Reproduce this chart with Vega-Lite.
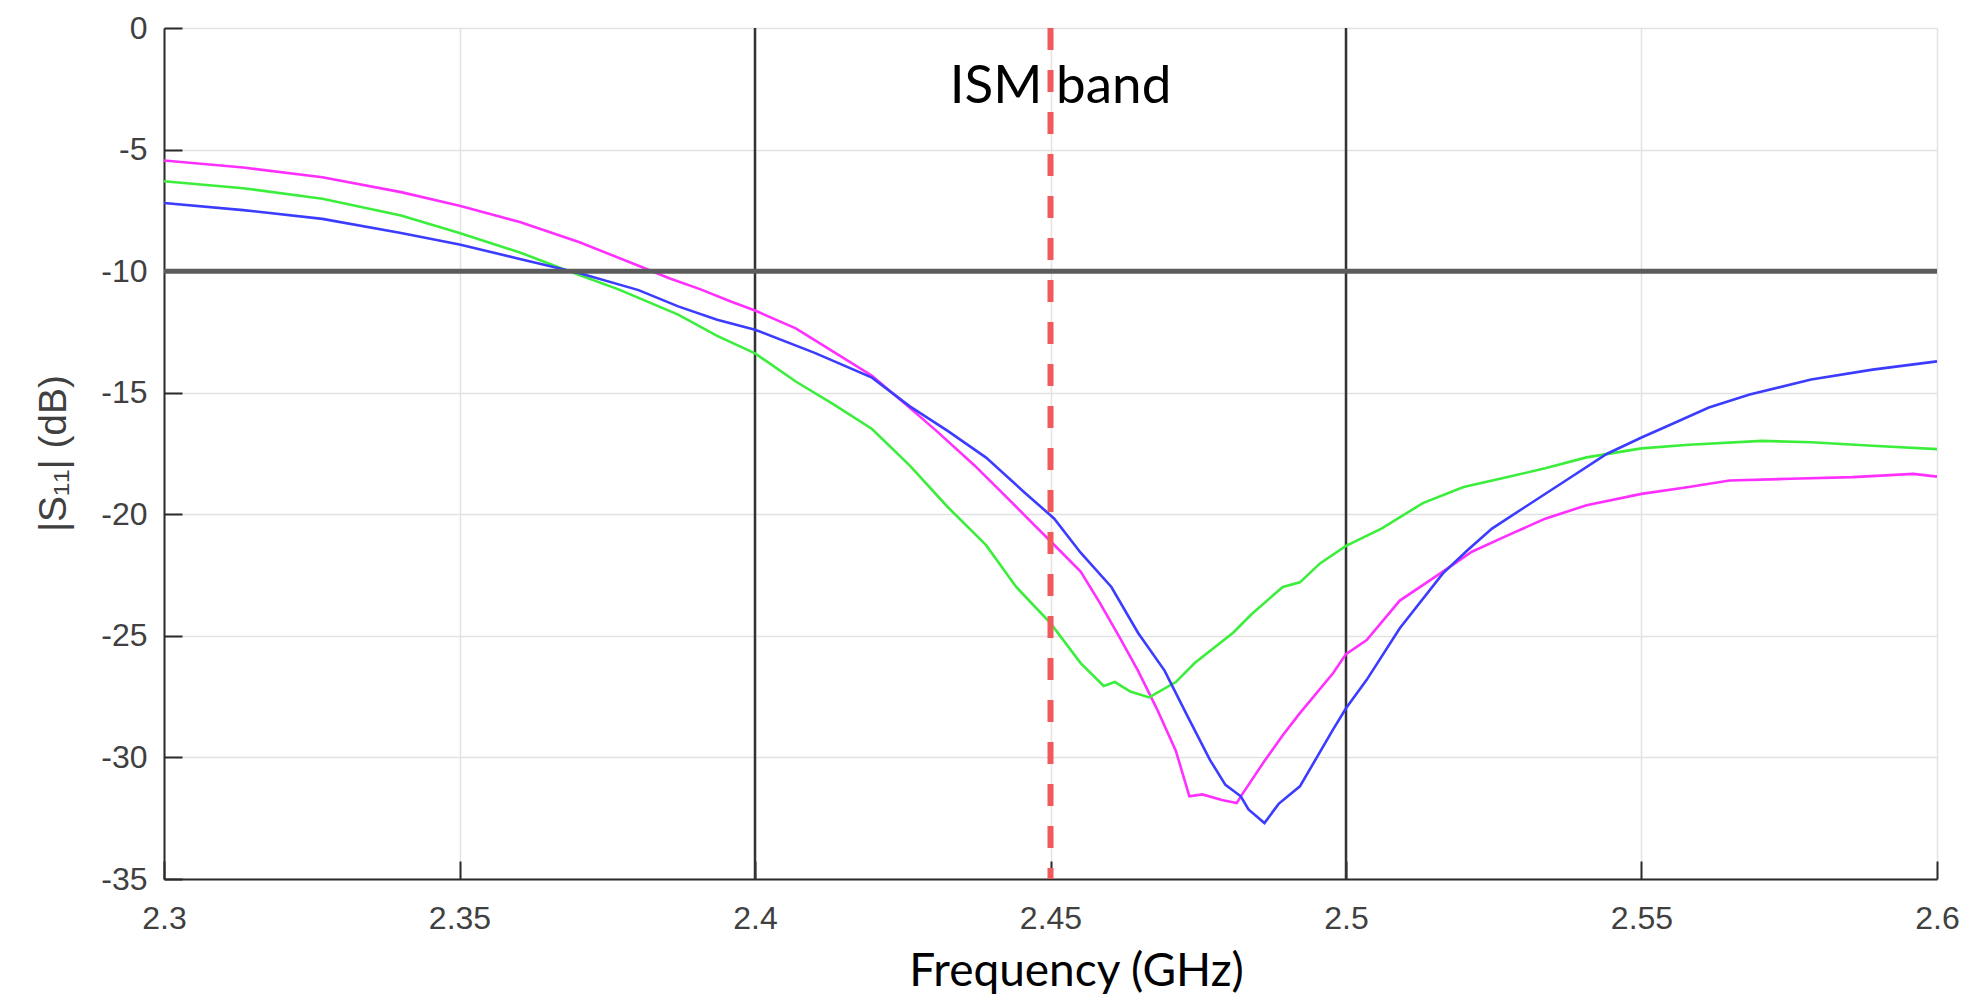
{
  "$schema": "https://vega.github.io/schema/vega-lite/v6.json",
  "autosize": {"type": "none"},
  "width": 1773,
  "height": 851,
  "padding": {"left": 164, "top": 28, "right": 38, "bottom": 122},
  "background": "white",
  "config": {
    "view": {"stroke": null},
    "axis": {
      "grid": true,
      "gridColor": "#e2e2e2",
      "gridWidth": 1.5,
      "domainColor": "#2b2b2b",
      "domainWidth": 2,
      "tickColor": "#2b2b2b",
      "tickWidth": 2,
      "tickSize": -18,
      "labelFont": "Liberation Sans",
      "labelFontSize": 32,
      "labelColor": "#404040",
      "labelOverlap": false,
      "labelFlush": false,
      "labelBound": false
    }
  },
  "datasets": {
    "curves": [
      {"f": 2.3, "db": -5.45, "s": "m"},
      {"f": 2.3134, "db": -5.74, "s": "m"},
      {"f": 2.3268, "db": -6.14, "s": "m"},
      {"f": 2.3401, "db": -6.75, "s": "m"},
      {"f": 2.35, "db": -7.31, "s": "m"},
      {"f": 2.3602, "db": -7.98, "s": "m"},
      {"f": 2.3702, "db": -8.8, "s": "m"},
      {"f": 2.3803, "db": -9.78, "s": "m"},
      {"f": 2.3856, "db": -10.3, "s": "m"},
      {"f": 2.3908, "db": -10.75, "s": "m"},
      {"f": 2.3959, "db": -11.25, "s": "m"},
      {"f": 2.4, "db": -11.62, "s": "m"},
      {"f": 2.4069, "db": -12.35, "s": "m"},
      {"f": 2.4133, "db": -13.32, "s": "m"},
      {"f": 2.4198, "db": -14.3, "s": "m"},
      {"f": 2.4255, "db": -15.48, "s": "m"},
      {"f": 2.4307, "db": -16.57, "s": "m"},
      {"f": 2.4371, "db": -17.98, "s": "m"},
      {"f": 2.4423, "db": -19.23, "s": "m"},
      {"f": 2.4468, "db": -20.33, "s": "m"},
      {"f": 2.45, "db": -21.11, "s": "m"},
      {"f": 2.4551, "db": -22.36, "s": "m"},
      {"f": 2.4583, "db": -23.62, "s": "m"},
      {"f": 2.4616, "db": -25.02, "s": "m"},
      {"f": 2.4648, "db": -26.43, "s": "m"},
      {"f": 2.468, "db": -28.0, "s": "m"},
      {"f": 2.4712, "db": -29.72, "s": "m"},
      {"f": 2.4735, "db": -31.6, "s": "m"},
      {"f": 2.4757, "db": -31.52, "s": "m"},
      {"f": 2.479, "db": -31.75, "s": "m"},
      {"f": 2.4815, "db": -31.88, "s": "m"},
      {"f": 2.4822, "db": -31.6, "s": "m"},
      {"f": 2.4862, "db": -30.15, "s": "m"},
      {"f": 2.4893, "db": -29.09, "s": "m"},
      {"f": 2.4922, "db": -28.18, "s": "m"},
      {"f": 2.4978, "db": -26.54, "s": "m"},
      {"f": 2.5, "db": -25.75, "s": "m"},
      {"f": 2.5035, "db": -25.17, "s": "m"},
      {"f": 2.5091, "db": -23.55, "s": "m"},
      {"f": 2.5164, "db": -22.36, "s": "m"},
      {"f": 2.5213, "db": -21.54, "s": "m"},
      {"f": 2.5268, "db": -20.93, "s": "m"},
      {"f": 2.5337, "db": -20.18, "s": "m"},
      {"f": 2.5407, "db": -19.63, "s": "m"},
      {"f": 2.55, "db": -19.16, "s": "m"},
      {"f": 2.558, "db": -18.88, "s": "m"},
      {"f": 2.5649, "db": -18.61, "s": "m"},
      {"f": 2.5753, "db": -18.54, "s": "m"},
      {"f": 2.5857, "db": -18.47, "s": "m"},
      {"f": 2.596, "db": -18.34, "s": "m"},
      {"f": 2.6, "db": -18.45, "s": "m"},

      {"f": 2.3, "db": -6.3, "s": "g"},
      {"f": 2.3134, "db": -6.59, "s": "g"},
      {"f": 2.3268, "db": -7.02, "s": "g"},
      {"f": 2.3401, "db": -7.71, "s": "g"},
      {"f": 2.35, "db": -8.43, "s": "g"},
      {"f": 2.3602, "db": -9.23, "s": "g"},
      {"f": 2.3682, "db": -9.97, "s": "g"},
      {"f": 2.3769, "db": -10.75, "s": "g"},
      {"f": 2.387, "db": -11.79, "s": "g"},
      {"f": 2.3936, "db": -12.66, "s": "g"},
      {"f": 2.4, "db": -13.38, "s": "g"},
      {"f": 2.4069, "db": -14.54, "s": "g"},
      {"f": 2.4133, "db": -15.48, "s": "g"},
      {"f": 2.4198, "db": -16.49, "s": "g"},
      {"f": 2.4262, "db": -18.0, "s": "g"},
      {"f": 2.4326, "db": -19.7, "s": "g"},
      {"f": 2.4391, "db": -21.27, "s": "g"},
      {"f": 2.4442, "db": -22.99, "s": "g"},
      {"f": 2.45, "db": -24.48, "s": "g"},
      {"f": 2.4551, "db": -26.12, "s": "g"},
      {"f": 2.459, "db": -27.06, "s": "g"},
      {"f": 2.4609, "db": -26.9, "s": "g"},
      {"f": 2.4635, "db": -27.29, "s": "g"},
      {"f": 2.4667, "db": -27.53, "s": "g"},
      {"f": 2.4712, "db": -26.9, "s": "g"},
      {"f": 2.4744, "db": -26.12, "s": "g"},
      {"f": 2.4809, "db": -24.87, "s": "g"},
      {"f": 2.4841, "db": -24.09, "s": "g"},
      {"f": 2.4893, "db": -22.99, "s": "g"},
      {"f": 2.4922, "db": -22.8, "s": "g"},
      {"f": 2.4956, "db": -22.02, "s": "g"},
      {"f": 2.5, "db": -21.3, "s": "g"},
      {"f": 2.506, "db": -20.59, "s": "g"},
      {"f": 2.513, "db": -19.54, "s": "g"},
      {"f": 2.5199, "db": -18.88, "s": "g"},
      {"f": 2.5268, "db": -18.5, "s": "g"},
      {"f": 2.5337, "db": -18.11, "s": "g"},
      {"f": 2.5407, "db": -17.66, "s": "g"},
      {"f": 2.55, "db": -17.29, "s": "g"},
      {"f": 2.558, "db": -17.14, "s": "g"},
      {"f": 2.5704, "db": -16.98, "s": "g"},
      {"f": 2.5787, "db": -17.04, "s": "g"},
      {"f": 2.5891, "db": -17.18, "s": "g"},
      {"f": 2.6, "db": -17.32, "s": "g"},

      {"f": 2.3, "db": -7.2, "s": "b"},
      {"f": 2.3134, "db": -7.49, "s": "b"},
      {"f": 2.3268, "db": -7.85, "s": "b"},
      {"f": 2.3401, "db": -8.43, "s": "b"},
      {"f": 2.35, "db": -8.9, "s": "b"},
      {"f": 2.3602, "db": -9.5, "s": "b"},
      {"f": 2.3702, "db": -10.08, "s": "b"},
      {"f": 2.3803, "db": -10.78, "s": "b"},
      {"f": 2.387, "db": -11.45, "s": "b"},
      {"f": 2.3936, "db": -12.0, "s": "b"},
      {"f": 2.4, "db": -12.41, "s": "b"},
      {"f": 2.4101, "db": -13.36, "s": "b"},
      {"f": 2.4198, "db": -14.38, "s": "b"},
      {"f": 2.4262, "db": -15.56, "s": "b"},
      {"f": 2.4326, "db": -16.57, "s": "b"},
      {"f": 2.4391, "db": -17.67, "s": "b"},
      {"f": 2.4455, "db": -19.08, "s": "b"},
      {"f": 2.4506, "db": -20.17, "s": "b"},
      {"f": 2.4551, "db": -21.58, "s": "b"},
      {"f": 2.4603, "db": -22.99, "s": "b"},
      {"f": 2.4648, "db": -24.87, "s": "b"},
      {"f": 2.4693, "db": -26.43, "s": "b"},
      {"f": 2.4732, "db": -28.31, "s": "b"},
      {"f": 2.477, "db": -30.11, "s": "b"},
      {"f": 2.4796, "db": -31.13, "s": "b"},
      {"f": 2.4822, "db": -31.6, "s": "b"},
      {"f": 2.4835, "db": -32.14, "s": "b"},
      {"f": 2.4862, "db": -32.7, "s": "b"},
      {"f": 2.4886, "db": -31.91, "s": "b"},
      {"f": 2.4922, "db": -31.19, "s": "b"},
      {"f": 2.4978, "db": -28.86, "s": "b"},
      {"f": 2.5, "db": -27.98, "s": "b"},
      {"f": 2.5035, "db": -26.81, "s": "b"},
      {"f": 2.5091, "db": -24.69, "s": "b"},
      {"f": 2.5164, "db": -22.43, "s": "b"},
      {"f": 2.5206, "db": -21.47, "s": "b"},
      {"f": 2.5247, "db": -20.59, "s": "b"},
      {"f": 2.5303, "db": -19.7, "s": "b"},
      {"f": 2.5372, "db": -18.61, "s": "b"},
      {"f": 2.5441, "db": -17.52, "s": "b"},
      {"f": 2.55, "db": -16.84, "s": "b"},
      {"f": 2.5545, "db": -16.36, "s": "b"},
      {"f": 2.5614, "db": -15.61, "s": "b"},
      {"f": 2.5683, "db": -15.07, "s": "b"},
      {"f": 2.5787, "db": -14.46, "s": "b"},
      {"f": 2.5891, "db": -14.05, "s": "b"},
      {"f": 2.6, "db": -13.71, "s": "b"}
    ],
    "hline": [{"db": -10}],
    "vlines": [{"f": 2.4}, {"f": 2.5}],
    "ism": [{"f": 2.45}],
    "label": [{"f": 2.4517, "db": -3.1, "text": "ISM band"}]
  },
  "layer": [
    {
      "data": {"name": "vlines"},
      "mark": {"type": "rule", "color": "#333333", "strokeWidth": 2.5},
      "encoding": {
        "x": {"field": "f", "type": "quantitative"}
      }
    },
    {
      "data": {"name": "curves"},
      "mark": {"type": "line", "strokeWidth": 2.6, "interpolate": "linear"},
      "encoding": {
        "x": {
          "field": "f",
          "type": "quantitative",
          "scale": {"domain": [2.3, 2.6], "nice": false, "zero": false},
          "axis": {
            "values": [2.3, 2.35, 2.4, 2.45, 2.5, 2.55, 2.6],
            "labelExpr": "'' + datum.value",
            "labelPadding": 42,
            "title": "Frequency (GHz)",
            "titleFont": "Lato",
            "titleFontSize": 46,
            "titleFontWeight": "normal",
            "titleColor": "#000000",
            "titleX": 912,
            "titleY": 106,
            "titleBaseline": "alphabetic"
          }
        },
        "y": {
          "field": "db",
          "type": "quantitative",
          "scale": {"domain": [-35, 0], "nice": false, "zero": false},
          "axis": {
            "values": [-35, -30, -25, -20, -15, -10, -5, 0],
            "labelExpr": "'' + datum.value",
            "labelPadding": 35,
            "title": "|S₁₁| (dB)",
            "titleFont": "Liberation Sans",
            "titleFontSize": 39,
            "titleFontWeight": "normal",
            "titleColor": "#404040",
            "titleX": -99,
            "titleY": 425,
            "titleAlign": "center",
            "titleBaseline": "alphabetic"
          }
        },
        "color": {
          "field": "s",
          "type": "nominal",
          "scale": {"domain": ["m", "g", "b"], "range": ["#ff30ff", "#3cee3c", "#3c3cff"]},
          "legend": null
        },
        "order": {"field": "f", "type": "quantitative"}
      }
    },
    {
      "data": {"name": "hline"},
      "mark": {"type": "rule", "color": "#5c5c5c", "strokeWidth": 5},
      "encoding": {
        "y": {"field": "db", "type": "quantitative"}
      }
    },
    {
      "data": {"name": "ism"},
      "mark": {"type": "rule", "color": "#f05a5a", "strokeWidth": 6, "strokeDash": [22, 20]},
      "encoding": {
        "x": {"field": "f", "type": "quantitative"}
      }
    },
    {
      "data": {"name": "label"},
      "mark": {"type": "text", "font": "Lato", "fontSize": 53, "color": "#000000", "align": "center", "baseline": "alphabetic"},
      "encoding": {
        "x": {"field": "f", "type": "quantitative"},
        "y": {"field": "db", "type": "quantitative"},
        "text": {"field": "text"}
      }
    }
  ]
}
